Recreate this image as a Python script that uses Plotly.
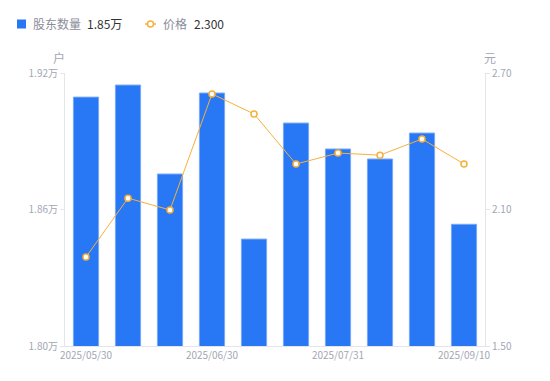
import plotly.graph_objects as go

dates = ["2025/05/30", "2025/06/10", "2025/06/20", "2025/06/30", "2025/07/10",
         "2025/07/20", "2025/07/31", "2025/08/20", "2025/08/31", "2025/09/10"]
holders = [1.9094, 1.9147, 1.8756, 1.9112, 1.8470, 1.8980, 1.8866, 1.8822, 1.8936, 1.8535]
price = [1.891, 2.150, 2.098, 2.608, 2.520, 2.300, 2.348, 2.339, 2.410, 2.300]
tick_dates = ["2025/05/30", "2025/06/30", "2025/07/31", "2025/09/10"]
left_ticks = [1.80, 1.86, 1.92]
right_ticks = [1.50, 2.10, 2.70]

BLUE = "#2878f5"
ORANGE = "#f7b03a"
GRAY = "#a3a6b4"
FONT = "Noto Sans CJK SC"

fig = go.Figure()
fig.add_trace(go.Bar(x=dates, y=holders, marker=dict(color=BLUE, line=dict(color="#7aa9f7", width=1)),
                     width=0.6, yaxis="y", showlegend=False))
fig.add_trace(go.Scatter(x=dates, y=price, mode="lines+markers", yaxis="y2", showlegend=False,
                         line=dict(color=ORANGE, width=1),
                         marker=dict(symbol="circle", size=6, color="white",
                                     line=dict(color=ORANGE, width=1.5))))

W, H = 550, 381
L, R, T, B = 65, 485, 73, 346
def px(x): return (x - L) / (R - L)
def py(y): return (B - y) / (B - T)

shapes = [
    dict(type="rect", xref="paper", yref="paper", x0=px(17), x1=px(26), y0=py(28.5), y1=py(19.5),
         fillcolor=BLUE, line=dict(width=0)),
    dict(type="line", xref="paper", yref="paper", x0=px(145), x1=px(156), y0=py(24), y1=py(24),
         line=dict(color=ORANGE, width=1.5)),
    dict(type="circle", xref="paper", yref="paper", x0=px(147.5), x1=px(153.5), y0=py(27), y1=py(21),
         fillcolor="white", line=dict(color=ORANGE, width=1.5)),
]
annotations = [
    dict(xref="paper", yref="paper", x=px(31), y=py(24), xanchor="left", yanchor="middle",
         text="股东数量", showarrow=False, font=dict(size=12, color="#8a8d99", family=FONT)),
    dict(xref="paper", yref="paper", x=px(85), y=py(24), xanchor="left", yanchor="middle",
         text=f"{holders[-1]:.2f}万", showarrow=False, font=dict(size=12, color="#333333", family=FONT)),
    dict(xref="paper", yref="paper", x=px(161), y=py(24), xanchor="left", yanchor="middle",
         text="价格", showarrow=False, font=dict(size=12, color="#8a8d99", family=FONT)),
    dict(xref="paper", yref="paper", x=px(192), y=py(24), xanchor="left", yanchor="middle",
         text=f"{price[-1]:.3f}", showarrow=False, font=dict(size=12, color="#333333", family=FONT)),
    dict(xref="paper", yref="paper", x=px(59), y=py(57), xanchor="center", yanchor="middle",
         text="户", showarrow=False, font=dict(size=12, color=GRAY, family=FONT)),
    dict(xref="paper", yref="paper", x=px(490), y=py(57), xanchor="center", yanchor="middle",
         text="元", showarrow=False, font=dict(size=12, color=GRAY, family=FONT)),
]

fig.update_layout(
    width=W, height=H,
    margin=dict(l=L, r=W - R, t=T, b=H - B, pad=0),
    paper_bgcolor="white", plot_bgcolor="white",
    font=dict(family=FONT, size=10, color=GRAY),
    shapes=shapes, annotations=annotations,
    xaxis=dict(type="category", range=[-0.5, len(dates) - 0.5], tickmode="array",
               tickvals=tick_dates, ticktext=tick_dates,
               showgrid=False, showline=True, linecolor="#e3e5ea", linewidth=1,
               ticks="", tickfont=dict(size=10, color=GRAY), zeroline=False),
    yaxis=dict(range=[1.80, 1.92], tickvals=left_ticks, ticktext=[f"{v:.2f}万" for v in left_ticks],
               showgrid=False, showline=True, linecolor="#e3e5ea", linewidth=1,
               ticks="outside", ticklen=4, tickcolor="#e3e5ea", zeroline=False,
               tickfont=dict(size=10, color=GRAY)),
    yaxis2=dict(range=[1.50, 2.70], tickvals=right_ticks, ticktext=[f"{v:.2f}" for v in right_ticks],
                overlaying="y", side="right", showgrid=False, showline=True, linecolor="#e3e5ea",
                linewidth=1, ticks="outside", ticklen=4, tickcolor="#e3e5ea", zeroline=False,
                tickfont=dict(size=10, color=GRAY)),
)

fig.write_html("out.html", config={"displayModeBar": False},
               post_script="document.body.style.margin='0';document.body.style.overflow='hidden';")
